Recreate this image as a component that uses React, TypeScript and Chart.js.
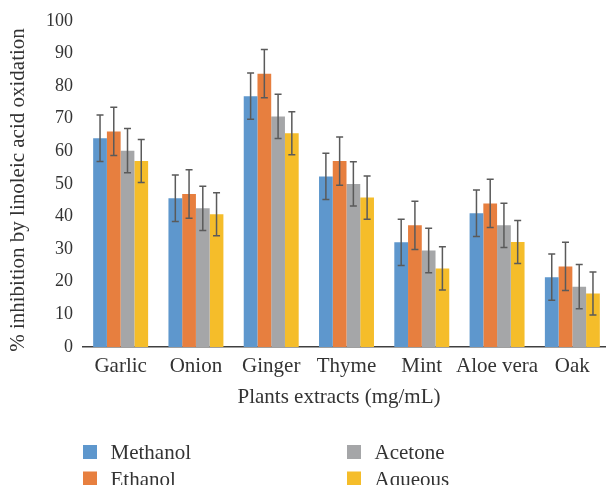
import React, { useEffect, useRef } from "react";
import { Chart, registerables } from "chart.js";

Chart.register(...registerables);

const categories = ["Garlic", "Onion", "Ginger", "Thyme", "Mint", "Aloe vera", "Oak"];
const seriesNames = ["Methanol", "Ethanol", "Acetone", "Aqueous"];
const methanol = [64.0, 45.6, 76.9, 52.3, 32.1, 41.0, 21.4];
const ethanol = [66.1, 46.9, 83.8, 57.0, 37.3, 44.0, 24.7];
const acetone = [60.2, 42.5, 70.7, 50.0, 29.6, 37.3, 18.5];
const aqueous = [57.0, 40.7, 65.5, 45.8, 24.1, 32.2, 16.4];
const methanolErr = [7.1, 7.1, 7.1, 7.1, 7.1, 7.1, 7.1];
const ethanolErr = [7.4, 7.4, 7.4, 7.4, 7.4, 7.4, 7.4];
const acetoneErr = [6.8, 6.8, 6.8, 6.8, 6.8, 6.8, 6.8];
const aqueousErr = [6.6, 6.6, 6.6, 6.6, 6.6, 6.6, 6.6];
const yTicks = [0, 10, 20, 30, 40, 50, 60, 70, 80, 90, 100];
const colors = ["#5E97CD", "#E77F3F", "#A5A6A8", "#F5BD2A"];
const xTitle = "Plants extracts (mg/mL)";
const yTitle = "% inhibition by linoleic acid oxidation";

const FONT = "'Liberation Serif', 'DejaVu Serif', serif";
const TEXT = "#333333";

const errorBarPlugin = {
  id: "errorBars",
  afterDatasetsDraw(chart: any) {
    const ctx = chart.ctx;
    const yScale = chart.scales.y;
    const errs = [methanolErr, ethanolErr, acetoneErr, aqueousErr];
    ctx.save();
    ctx.strokeStyle = "#5a5a5a";
    ctx.lineWidth = 1.5;
    chart.data.datasets.forEach((ds: any, di: number) => {
      const meta = chart.getDatasetMeta(di);
      meta.data.forEach((bar: any, i: number) => {
        const v = ds.data[i];
        const e = errs[di][i];
        const x = bar.x;
        const yt = yScale.getPixelForValue(v + e);
        const yb = yScale.getPixelForValue(v - e);
        ctx.beginPath();
        ctx.moveTo(x, yt);
        ctx.lineTo(x, yb);
        ctx.moveTo(x - 3.5, yt);
        ctx.lineTo(x + 3.5, yt);
        ctx.moveTo(x - 3.5, yb);
        ctx.lineTo(x + 3.5, yb);
        ctx.stroke();
      });
    });
    ctx.restore();
  },
};

const titlesAndLegendPlugin = {
  id: "titlesLegend",
  afterDraw(chart: any) {
    const ctx = chart.ctx;
    ctx.save();
    ctx.fillStyle = TEXT;
    ctx.font = `21px ${FONT}`;
    ctx.textAlign = "center";
    ctx.textBaseline = "middle";
    ctx.fillText(xTitle, 339, 397);
    ctx.save();
    ctx.translate(18, 190);
    ctx.rotate(-Math.PI / 2);
    ctx.fillText(yTitle, 0, 0);
    ctx.restore();

    const cols = [83, 347];
    const rows = [445, 471.5];
    ctx.textBaseline = "alphabetic";
    ctx.textAlign = "left";
    chart.data.datasets.forEach((ds: any, i: number) => {
      const c = Math.floor(i / 2);
      const r = i % 2;
      const x = cols[c];
      const y = rows[r];
      ctx.fillStyle = ds.backgroundColor;
      ctx.fillRect(x, y, 14, 14);
      ctx.fillStyle = TEXT;
      ctx.fillText(ds.label, x + 27.5, y + 14);
    });
    ctx.restore();
  },
};

export default function App() {
  const ref = useRef<HTMLCanvasElement>(null);
  useEffect(() => {
    if (!ref.current) return;
    const values = [methanol, ethanol, acetone, aqueous];
    const chart = new Chart(ref.current, {
      type: "bar",
      data: {
        labels: categories,
        datasets: seriesNames.map((name, i) => ({
          label: name,
          data: values[i],
          backgroundColor: colors[i],
          borderWidth: 0,
          categoryPercentage: 0.73,
          barPercentage: 1.0,
        })),
      },
      options: {
        responsive: false,
        animation: false,
        layout: { padding: { top: 20, bottom: 76, left: 0, right: 2 } },
        plugins: {
          legend: { display: false },
          tooltip: { enabled: false },
        },
        scales: {
          x: {
            grid: { display: false, drawTicks: false },
            border: { display: true, color: "#404040", width: 1.5 },
            ticks: {
              color: TEXT,
              font: { family: FONT, size: 21, lineHeight: 1.2 },
              padding: 7,
              maxRotation: 0,
              autoSkip: false,
            },
            afterFit(scale: any) {
              scale.height = 62;
            },
          },
          y: {
            min: 0,
            max: 100,
            afterBuildTicks(scale: any) {
              scale.ticks = yTicks.map((v) => ({ value: v }));
            },
            grid: { display: false, drawTicks: false },
            border: { display: false },
            ticks: {
              color: TEXT,
              font: { family: FONT, size: 18, lineHeight: 1.2 },
              padding: 10,
            },
            afterFit(scale: any) {
              scale.width = 83;
            },
          },
        },
      },
      plugins: [errorBarPlugin, titlesAndLegendPlugin],
    });
    return () => chart.destroy();
  }, []);
  return (
    <div
      style={{
        position: "fixed",
        left: 0,
        top: 0,
        width: 606,
        height: 485,
        overflow: "hidden",
        background: "#fff",
      }}
    >
      <canvas ref={ref} width={612} height={485} style={{ display: "block" }} />
    </div>
  );
}
